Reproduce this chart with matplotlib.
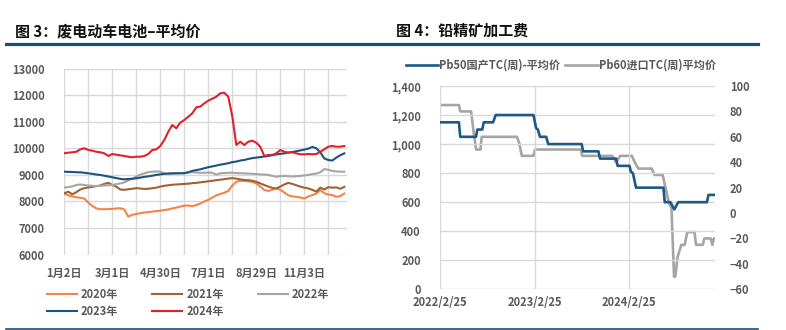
import matplotlib
matplotlib.use('Agg')
import matplotlib.pyplot as plt
import matplotlib.ticker as mticker
from matplotlib.lines import Line2D
import numpy as np
import pandas as pd

plt.rcParams['font.family'] = ['Noto Sans CJK SC', 'DejaVu Sans']

# ---- 图3 废电动车电池-平均价 (one reading every few trading days) ----
day_labels = ['1月2日', '3月1日', '4月30日', '7月1日', '8月29日', '11月3日']
year_names = ['2020年', '2021年', '2022年', '2023年', '2024年']

price_2020 = [8300, 8230, 8190, 8160, 8140, 8110, 7960, 7830, 7740, 7710,
              7710, 7720, 7720, 7740, 7745, 7700, 7430, 7500, 7530, 7560,
              7590, 7600, 7620, 7640, 7655, 7680, 7700, 7740, 7770, 7810,
              7840, 7850, 7820, 7870, 7920, 8000, 8060, 8150, 8230, 8280,
              8330, 8400, 8600, 8740, 8780, 8770, 8760, 8740, 8680, 8560,
              8430, 8400, 8440, 8490, 8440, 8340, 8230, 8190, 8180, 8150,
              8110, 8190, 8240, 8300, 8430, 8310, 8260, 8240, 8180, 8200,
              8300]
price_2021 = [8310, 8370, 8270, 8350, 8450, 8500, 8530, 8550, 8580, 8600,
              8660, 8700, 8620, 8560, 8450, 8440, 8460, 8480, 8500, 8490,
              8470, 8480, 8500, 8520, 8560, 8590, 8610, 8630, 8640, 8650,
              8660, 8670, 8690, 8700, 8720, 8740, 8760, 8780, 8800, 8820,
              8840, 8860, 8880, 8860, 8830, 8810, 8800, 8780, 8740, 8680,
              8620, 8560, 8510, 8490, 8560, 8640, 8700, 8660, 8610, 8560,
              8520, 8490, 8440, 8370, 8520, 8450, 8540, 8520, 8530, 8480,
              8550]
price_2022 = [8530, 8540, 8570, 8620, 8640, 8620, 8600, 8590, 8580, 8590,
              8600, 8610, 8620, 8650, 8680, 8720, 8790, 8860, 8940, 9010,
              9060, 9100, 9120, 9130, 9120, 9060, 9040, 9050, 9060, 9070,
              9080, 9090, 9100, 9090, 9080, 9080, 9090, 9080, 9010, 9060,
              9070, 9080, 9080, 9070, 9060, 9060, 9050, 9040, 9030, 9020,
              9010, 9000, 8960, 8930, 8950, 8960, 8950, 8940, 8950, 8960,
              8980, 9000, 9030, 9050, 9100, 9220, 9190, 9150, 9130, 9120,
              9120]
price_2023 = [9120, 9115, 9110, 9100, 9097, 9080, 9060, 9040, 9015, 8996,
              8970, 8940, 8910, 8880, 8850, 8834, 8845, 8855, 8870, 8900,
              8925, 8945, 8970, 9000, 9020, 9040, 9050, 9060, 9060, 9060,
              9060, 9100, 9150, 9180, 9210, 9250, 9290, 9320, 9350, 9385,
              9410, 9440, 9480, 9500, 9540, 9560, 9600, 9630, 9650, 9670,
              9690, 9710, 9740, 9770, 9790, 9810, 9840, 9860, 9890, 9920,
              9950, 9990, 10050, 10000, 9850, 9620, 9560, 9540, 9650, 9740,
              9810]
price_2024 = [9812, 9835, 9850, 9870, 9960, 10000, 9936, 9910, 9870, 9850,
              9810, 9710, 9785, 9760, 9735, 9710, 9685, 9660, 9685, 9685,
              9710, 9785, 9936, 9960, 10086, 10312, 10624, 10876, 10752, 10963,
              11064, 11188, 11316, 11541, 11566, 11692, 11790, 11865, 11940, 12068,
              12090, 11940, 11200, 10124, 10248, 10124, 10248, 10286, 10210, 10060,
              9710, 9750, 9750, 9812, 9936, 9870, 9835, 9850, 9810, 9775,
              9775, 9785, 9775, 9785, 9870, 9960, 10060, 10086, 10060, 10060,
              10086]

# ---- 图4 铅精矿加工费 ----
tc_labels = ['Pb50国产TC(周)-平均价', 'Pb60进口TC(周)平均价']
pb50_dates = ['2022-02-25', '2022-05-08', '2022-05-13', '2022-07-13', '2022-07-18',
              '2022-08-06', '2022-08-12', '2022-09-17', '2022-09-27', '2023-02-20',
              '2023-03-02', '2023-03-09', '2023-03-17', '2023-04-10', '2023-04-18',
              '2023-08-25', '2023-08-31', '2023-10-29', '2023-11-04', '2024-01-05',
              '2024-01-11', '2024-02-26', '2024-03-02', '2024-03-10', '2024-03-22',
              '2024-07-06', '2024-07-11', '2024-08-02', '2024-08-17', '2024-09-01',
              '2024-12-21', '2024-12-27', '2025-01-20']
pb50_tc = [1150, 1150, 1050, 1050, 1100, 1100, 1150, 1150, 1200, 1200,
           1110, 1100, 1050, 1050, 1000, 1000, 950, 950, 900, 900,
           850, 850, 810, 800, 700, 700, 600, 600, 550, 600,
           600, 650, 650]
pb60_dates = ['2022-02-25', '2022-05-08', '2022-05-13', '2022-06-24', '2022-07-03',
              '2022-07-13', '2022-07-30', '2022-08-04', '2022-12-18', '2022-12-27',
              '2023-01-06', '2023-02-20', '2023-02-26', '2023-08-22', '2023-08-27',
              '2023-12-21', '2024-01-05', '2024-01-21', '2024-03-06', '2024-03-17',
              '2024-03-31', '2024-05-22', '2024-06-01', '2024-07-03', '2024-07-14',
              '2024-07-27', '2024-08-06', '2024-08-16', '2024-08-21', '2024-08-29',
              '2024-09-13', '2024-09-26', '2024-10-06', '2024-11-03', '2024-11-09',
              '2024-12-05', '2024-12-11', '2025-01-05', '2025-01-11', '2025-01-17',
              '2025-01-20']
pb60_tc = [85, 85, 80, 80, 65, 50, 50, 60, 60, 55,
           45, 45, 50, 50, 45, 45, 40, 45, 45, 40,
           35, 35, 30, 30, 20, 8, 4, -50, -50, -35,
           -25, -25, -15, -15, -25, -25, -20, -20, -25, -20,
           -20]
year_ticks = ['2022-02-25', '2023-02-25', '2024-02-25']

W, H = 786, 330
fig = plt.figure(figsize=(W / 100, H / 100), dpi=100)

def fx(px):
    return px / W

def fy(py):
    return 1 - py / H

tick_color = '#595959'
grid_color = '#D9D9D9'
navy = '#1B4F7A'

# header / footer rules and titles
fig.add_artist(Line2D([fx(6), fx(758)], [fy(44), fy(44)], color=navy, lw=2.3))
fig.add_artist(Line2D([fx(6), fx(758)], [fy(329), fy(329)], color=navy, lw=1.2))
fig.text(fx(15), fy(31), '图 3：废电动车电池–平均价', fontsize=10.8,
         fontweight='bold', va='center', color='#111111')
fig.text(fx(396), fy(31), '图 4：铅精矿加工费', fontsize=10.8,
         fontweight='bold', va='center', color='#111111')

# ---------------- left chart ----------------
ax1 = fig.add_axes([fx(64.3), fy(254.7), fx(346.7 - 64.3), (254.7 - 68.5) / H])
series = [price_2020, price_2021, price_2022, price_2023, price_2024]
colors = ['#F58348', '#9E6331', '#A5A5A5', '#18557F', '#E2202B']
lines = []
for vals, c, name in zip(series, colors, year_names):
    ln, = ax1.plot(np.arange(len(vals)), vals, color=c, lw=1.5, label=name)
    lines.append(ln)

ax1.set_ylim(6000, 13000)
ax1.set_yticks(np.arange(6000, 13001, 1000))
ax1.set_xlim(0, 70.6)
ax1.set_xticks(np.arange(0, 67, 6), minor=True)
ax1.set_xticks(np.arange(0, 61, 12))
ax1.set_xticklabels(day_labels)
ax1.grid(True, which='both', axis='x', color=grid_color, lw=1)
ax1.grid(True, axis='y', color=grid_color, lw=1)
ax1.set_axisbelow(True)
for s in ax1.spines.values():
    s.set_visible(False)
ax1.tick_params(which='both', length=0)
ax1.tick_params(axis='y', pad=14)
ax1.tick_params(axis='x', pad=9)
for lab in ax1.get_xticklabels() + ax1.get_yticklabels():
    lab.set_fontsize(8)
    lab.set_fontweight('bold')
    lab.set_color(tick_color)

order = [0, 3, 1, 4, 2]
leg1 = fig.legend([lines[i] for i in order], [year_names[i] for i in order],
                  loc='upper left', bbox_to_anchor=(fx(41), fy(282)), ncol=3,
                  frameon=False, handlelength=2.7, handletextpad=0.35,
                  columnspacing=3.1, labelspacing=0.4, borderpad=0,
                  prop={'size': 8, 'weight': 'bold'})
for t in leg1.get_texts():
    t.set_color(tick_color)

# ---------------- right chart ----------------
ax2 = fig.add_axes([fx(440.3), fy(289.3), fx(714.7 - 440.3), (289.3 - 86) / H])
ax3 = ax2.twinx()
d50 = pd.to_datetime(pb50_dates)
d60 = pd.to_datetime(pb60_dates)
l50, = ax2.plot(d50, pb50_tc, color='#1B5A86', lw=1.9, zorder=3)
l60, = ax3.plot(d60, pb60_tc, color='#A5A5A5', lw=1.9)
ax2.set_zorder(ax3.get_zorder() + 1)
ax2.patch.set_visible(False)

ax2.set_ylim(0, 1400)
ax2.set_yticks(np.arange(0, 1401, 200))
ax2.yaxis.set_major_formatter(mticker.StrMethodFormatter('{x:,.0f}'))
ax3.set_ylim(-60, 100)
ax3.set_yticks(np.arange(-60, 101, 20))
ax2.set_xlim(pd.Timestamp(pb50_dates[0]), pd.Timestamp(pb50_dates[-1]))
xt = pd.to_datetime(year_ticks)
ax2.set_xticks(xt)
ax2.set_xticklabels([f'{d.year}/{d.month}/{d.day}' for d in xt])
ax3.grid(False)
ax2.grid(True, color=grid_color, lw=1)
for a in (ax2, ax3):
    for s in a.spines.values():
        s.set_visible(False)
    a.tick_params(length=0)
ax2.tick_params(axis='y', pad=14)
ax3.tick_params(axis='y', pad=11)
ax2.tick_params(axis='x', pad=5)
for lab in ax2.get_xticklabels() + ax2.get_yticklabels() + ax3.get_yticklabels():
    lab.set_fontsize(8)
    lab.set_fontweight('bold')
    lab.set_color(tick_color)

leg2 = fig.legend([l50, l60], tc_labels, loc='center left',
                  bbox_to_anchor=(fx(400), fy(65)), ncol=2, frameon=False,
                  handlelength=2.9, handletextpad=0.15, columnspacing=0.45,
                  borderpad=0, prop={'size': 8, 'weight': 'bold'})
for t in leg2.get_texts():
    t.set_color(tick_color)

fig.savefig('out.png', dpi=100)
